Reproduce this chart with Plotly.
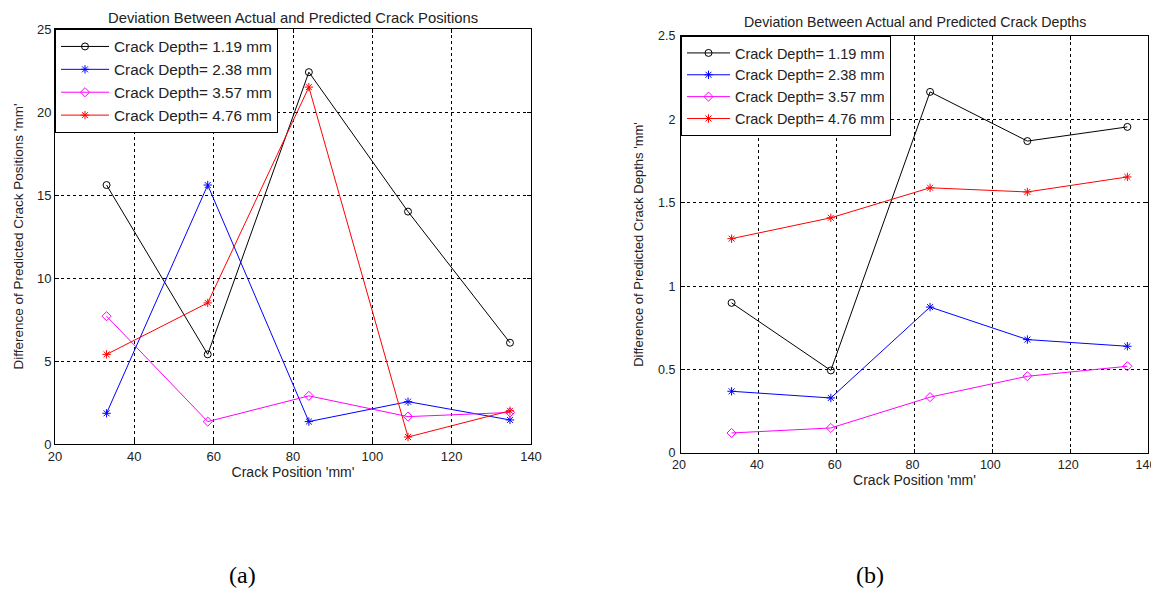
import plotly.graph_objects as go

# ---------------- data ----------------
crack_position = [33, 58.5, 84, 109, 134.7]
series_names = ["Crack Depth= 1.19 mm", "Crack Depth= 2.38 mm",
                "Crack Depth= 3.57 mm", "Crack Depth= 4.76 mm"]

pos_dev_119 = [15.6, 5.4, 22.4, 14.0, 6.1]
pos_dev_238 = [1.85, 15.6, 1.35, 2.55, 1.45]
pos_dev_357 = [7.7, 1.35, 2.9, 1.65, 1.9]
pos_dev_476 = [5.4, 8.5, 21.5, 0.42, 2.0]

depth_dev_119 = [0.90, 0.495, 2.165, 1.87, 1.955]
depth_dev_238 = [0.37, 0.33, 0.875, 0.68, 0.64]
depth_dev_357 = [0.12, 0.15, 0.335, 0.46, 0.52]
depth_dev_476 = [1.285, 1.41, 1.59, 1.565, 1.655]

x_ticks = [20, 40, 60, 80, 100, 120, 140]
y_ticks_a = [0, 5, 10, 15, 20, 25]
y_ticks_b = [0, 0.5, 1, 1.5, 2, 2.5]

colors = ["#000000", "#0000ff", "#ff00ff", "#ff0000"]
symbols = ["circle-open", "asterisk-open", "diamond-open", "asterisk-open"]

# the page body adds an 8px margin, so the figure is 8px smaller and
# every target pixel position is shifted by OFF
OFF = 8
W, H = 1159 - OFF, 594 - OFF
FONT = "Liberation Sans, Arial, sans-serif"
TXT = "#222222"

fig = go.Figure()

pos_series = [pos_dev_119, pos_dev_238, pos_dev_357, pos_dev_476]
depth_series = [depth_dev_119, depth_dev_238, depth_dev_357, depth_dev_476]

for name, ys, c, s in zip(series_names, pos_series, colors, symbols):
    fig.add_trace(go.Scatter(
        x=crack_position, y=ys, name=name, mode="lines+markers",
        line=dict(color=c, width=1),
        marker=dict(symbol=s, size=7, color=c, line=dict(color=c, width=1)),
        xaxis="x", yaxis="y", legend="legend"))

for name, ys, c, s in zip(series_names, depth_series, colors, symbols):
    fig.add_trace(go.Scatter(
        x=crack_position, y=ys, name=name, mode="lines+markers",
        line=dict(color=c, width=1),
        marker=dict(symbol=s, size=7, color=c, line=dict(color=c, width=1)),
        xaxis="x2", yaxis="y2", legend="legend2"))


def px(x):
    return (x - OFF) / W


def py(y):
    return 1 - (y - OFF) / H


# pixel geometry (screen coordinates) of the two axes boxes
ax_a = dict(l=55, r=531, t=29, b=444)
ax_b = dict(l=681, r=1148, t=36, b=453)


def dom_x(a):
    return [px(a["l"]), px(a["r"])]


def dom_y(a):
    return [py(a["b"]), py(a["t"])]


axis_common = dict(
    showline=True, linecolor="#000000", linewidth=1, mirror="ticks",
    ticks="inside", ticklen=4, tickcolor="#000000",
    showgrid=True, gridcolor="#000000", gridwidth=1, griddash="3px,3px",
    zeroline=False, automargin=False, ticklabeloverflow="allow",
)
tick_a = dict(family=FONT, size=13, color=TXT)
tick_b = dict(family=FONT, size=12.5, color=TXT)

fig.update_layout(
    width=W, height=H,
    margin=dict(l=0, r=0, t=0, b=0),
    paper_bgcolor="white", plot_bgcolor="white",
    font=dict(family=FONT, color=TXT),
    showlegend=True,
    xaxis=dict(domain=dom_x(ax_a), anchor="y", range=[20, 140],
               tickvals=x_ticks, tickfont=tick_a,
               title=dict(text="Crack Position 'mm'", standoff=4,
                          font=dict(family=FONT, size=14, color=TXT)),
               **axis_common),
    yaxis=dict(domain=dom_y(ax_a), anchor="x", range=[0, 25],
               tickvals=y_ticks_a, tickfont=tick_a,
               title=dict(text="Difference of Predicted Crack Positions 'mm'", standoff=10,
                          font=dict(family=FONT, size=13.5, color=TXT)),
               **axis_common),
    xaxis2=dict(domain=dom_x(ax_b), anchor="y2", range=[20, 140],
                tickvals=x_ticks, tickfont=tick_b, ticklabelshift=-2,
                title=dict(text="Crack Position 'mm'", standoff=4,
                           font=dict(family=FONT, size=14, color=TXT)),
                **axis_common),
    yaxis2=dict(domain=dom_y(ax_b), anchor="x2", range=[0, 2.5],
                tickvals=y_ticks_b, tickfont=tick_b, ticklabelstandoff=2,
                title=dict(text="Difference of Predicted Crack Depths 'mm'", standoff=11,
                           font=dict(family=FONT, size=13, color=TXT)),
                **axis_common),
    legend=dict(x=px(ax_a["l"]), y=py(ax_a["t"]), xanchor="left", yanchor="top",
                bgcolor="white", bordercolor="#000000", borderwidth=1,
                font=dict(family=FONT, size=15.3, color=TXT),
                itemwidth=48, tracegroupgap=0),
    legend2=dict(x=px(ax_b["l"]), y=py(ax_b["t"]), xanchor="left", yanchor="top",
                 bgcolor="white", bordercolor="#000000", borderwidth=1,
                 font=dict(family=FONT, size=14.5, color=TXT),
                 itemwidth=43, tracegroupgap=0),
    annotations=[
        dict(text="Deviation Between Actual and Predicted Crack Positions",
             xref="paper", yref="paper", x=px((ax_a["l"] + ax_a["r"]) / 2), y=py(8),
             xanchor="center", yanchor="top", showarrow=False,
             font=dict(family=FONT, size=14.8, color=TXT)),
        dict(text="Deviation Between Actual and Predicted Crack Depths",
             xref="paper", yref="paper", x=px((ax_b["l"] + ax_b["r"]) / 2), y=py(22),
             xanchor="center", yanchor="middle", showarrow=False,
             font=dict(family=FONT, size=14.2, color=TXT)),
        dict(text="(a)", xref="paper", yref="paper", x=px(242), y=py(575),
             xanchor="center", yanchor="middle", showarrow=False,
             font=dict(family="Liberation Serif, Times New Roman, serif", size=24, color="#000000")),
        dict(text="(b)", xref="paper", yref="paper", x=px(870), y=py(575),
             xanchor="center", yanchor="middle", showarrow=False,
             font=dict(family="Liberation Serif, Times New Roman, serif", size=24, color="#000000")),
    ],
)

fig.write_html("out.html")
